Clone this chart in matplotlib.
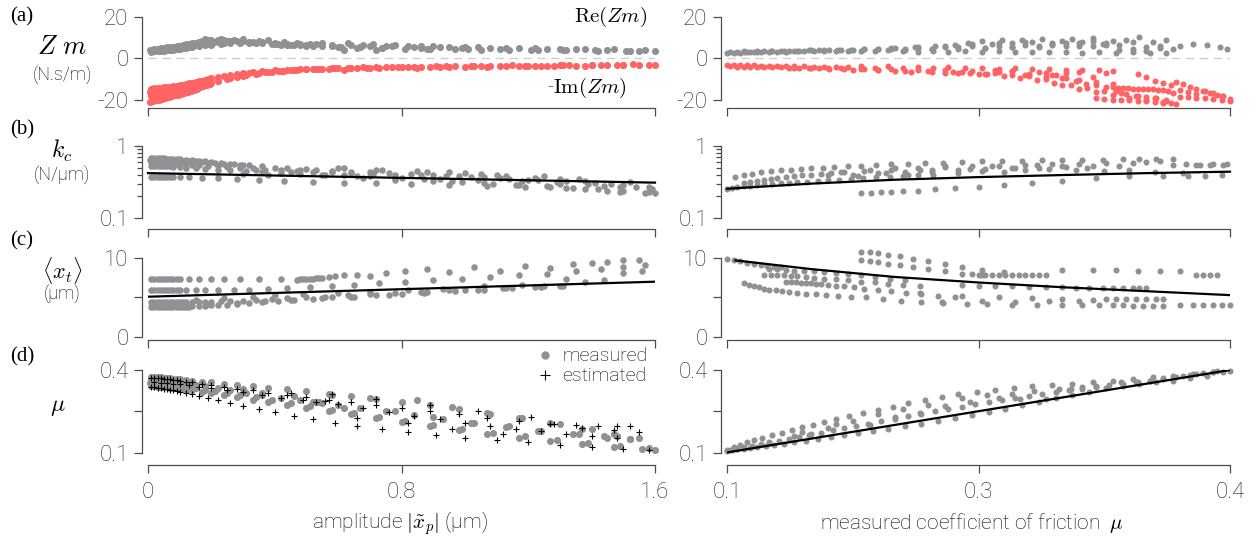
import matplotlib
matplotlib.use("Agg")
import matplotlib.pyplot as plt
from matplotlib import font_manager
from matplotlib.lines import Line2D

# %% data -------------------------------------------------------------------
# (a) left: mechanical impedance vs amplitude
za_amp_1 = [0.02, 0.03, 0.04, 0.05, 0.06, 0.07, 0.08, 0.09, 0.10, 0.11, 0.12, 0.13, 0.14, 0.15, 0.16, 0.17, 0.18, 0.19, 0.20, 0.22, 0.24, 0.26, 0.28, 0.30, 0.33, 0.36, 0.40, 0.44, 0.48, 0.53, 0.58, 0.64, 0.70, 0.77, 0.84, 0.92, 1.00, 1.08, 1.17, 1.26, 1.35, 1.45, 1.55]
za_re_1 = [4.6, 4.8, 5.0, 5.1, 5.3, 5.5, 5.7, 6.0, 6.2, 6.5, 6.8, 7.0, 7.3, 7.6, 7.9, 8.2, 8.5, 8.8, 9.0, 8.9, 8.7, 8.5, 8.4, 8.2, 7.9, 7.7, 7.4, 7.2, 7.0, 6.8, 6.6, 6.4, 6.1, 5.9, 5.7, 5.5, 5.3, 5.1, 4.9, 4.6, 4.4, 4.1, 3.8]
za_amp_2 = [0.01, 0.02, 0.03, 0.04, 0.05, 0.06, 0.07, 0.08, 0.09, 0.10, 0.11, 0.12, 0.13, 0.14, 0.16, 0.18, 0.20, 0.23, 0.26, 0.29, 0.32, 0.36, 0.40, 0.45, 0.50, 0.55, 0.61, 0.67, 0.74, 0.81, 0.89, 0.97, 1.05, 1.14, 1.23, 1.32, 1.42, 1.52, 1.60]
za_re_2 = [3.2, 3.4, 3.5, 3.7, 3.8, 4.0, 4.1, 4.3, 4.5, 4.7, 4.9, 5.1, 5.3, 5.5, 5.9, 6.3, 6.7, 7.1, 7.4, 7.6, 7.5, 7.3, 7.0, 6.6, 6.3, 6.0, 5.6, 5.3, 5.0, 4.8, 4.6, 4.5, 4.3, 4.2, 4.0, 3.9, 3.7, 3.5, 3.4]
za_amp_3 = [0.03, 0.05, 0.07, 0.09, 0.12, 0.15, 0.19, 0.24, 0.29, 0.34, 0.39, 0.42, 0.44, 0.46, 0.48, 0.50, 0.52, 0.60, 0.62, 0.66, 0.68, 0.72, 0.75, 0.86, 0.88, 0.99, 1.01, 1.11, 1.21, 1.31, 1.41, 1.51]
za_re_3 = [4.0, 4.3, 4.6, 5.0, 5.6, 6.3, 7.0, 7.6, 7.9, 7.4, 6.8, 6.5, 6.4, 6.3, 6.3, 6.2, 6.1, 5.6, 4.3, 5.2, 6.5, 3.9, 5.8, 5.0, 4.4, 5.1, 4.7, 4.5, 4.2, 4.0, 3.9, 3.6]
za_amp_4 = [0.16, 0.18, 0.21, 0.23, 0.25, 0.27, 0.30, 0.32, 0.35, 0.38, 0.41, 0.43, 0.47, 0.51, 0.55, 0.58, 0.63, 0.67, 0.71, 0.74, 0.78, 0.82, 0.86, 0.90, 0.95, 1.04, 1.13, 1.22, 1.30, 1.38, 1.47, 1.57]
za_re_4 = [7.8, 9.4, 8.0, 9.6, 8.2, 9.0, 9.2, 8.0, 8.6, 8.8, 7.2, 8.0, 7.6, 7.0, 7.4, 6.0, 7.3, 5.6, 6.8, 5.0, 6.4, 6.2, 6.0, 5.8, 5.4, 5.6, 5.2, 5.0, 4.8, 4.6, 4.4, 4.0]
za_amp_5 = [0.005, 0.015, 0.025, 0.035, 0.045, 0.055, 0.065, 0.075, 0.085, 0.095, 0.105, 0.115, 0.125, 0.135, 0.145, 0.155, 0.165, 0.175, 0.185, 0.195]
za_re_5 = [4.0, 4.1, 4.3, 4.4, 4.6, 4.8, 5.0, 5.2, 5.4, 5.7, 5.9, 6.2, 6.5, 6.8, 7.0, 7.3, 7.5, 7.7, 7.9, 8.1]
zi_amp_1 = [0.01, 0.02, 0.03, 0.04, 0.05, 0.06, 0.07, 0.08, 0.09, 0.10, 0.11, 0.12, 0.13, 0.14, 0.15, 0.16, 0.17, 0.18, 0.19, 0.20, 0.22, 0.24, 0.26, 0.28, 0.30, 0.33, 0.36, 0.40, 0.44, 0.48, 0.53, 0.58, 0.64, 0.70, 0.77, 0.84, 0.92, 1.00, 1.08, 1.17, 1.26, 1.35, 1.45, 1.55]
zi_im_1 = [-14.5, -14.4, -14.3, -14.1, -14.0, -13.8, -13.6, -13.4, -13.2, -12.9, -12.6, -12.3, -12.0, -11.7, -11.4, -11.0, -10.7, -10.3, -10.0, -9.6, -9.0, -8.4, -7.9, -7.4, -7.0, -6.5, -6.1, -5.7, -5.4, -5.2, -5.0, -4.8, -4.6, -4.4, -4.3, -4.1, -4.0, -3.9, -3.7, -3.6, -3.5, -3.4, -3.3, -3.2]
zi_amp_2 = [0.01, 0.02, 0.03, 0.04, 0.05, 0.06, 0.07, 0.08, 0.09, 0.10, 0.11, 0.12, 0.13, 0.14, 0.15, 0.16, 0.18, 0.20, 0.22, 0.25, 0.28, 0.31, 0.35, 0.39, 0.43, 0.47, 0.52, 0.57, 0.63, 0.69, 0.75, 0.82, 0.89, 0.97, 1.05, 1.13, 1.22, 1.31, 1.40, 1.50, 1.60]
zi_im_2 = [-20.5, -20.0, -19.6, -19.2, -18.8, -18.4, -18.0, -17.6, -17.2, -16.8, -16.4, -16.0, -15.5, -15.0, -14.5, -14.0, -13.0, -12.0, -11.0, -9.8, -8.8, -8.0, -7.2, -6.6, -6.1, -5.7, -5.3, -5.0, -4.7, -4.5, -4.3, -4.1, -3.9, -3.7, -3.6, -3.5, -3.4, -3.3, -3.2, -3.1, -3.0]
zi_amp_3 = [0.01, 0.02, 0.03, 0.04, 0.05, 0.06, 0.07, 0.08, 0.09, 0.10, 0.12, 0.14, 0.16, 0.19, 0.22, 0.26, 0.30, 0.34, 0.38, 0.42, 0.46, 0.50, 0.55, 0.60, 0.66, 0.72, 0.79, 0.86, 0.94, 1.02, 1.11, 1.20, 1.30, 1.40, 1.50]
zi_im_3 = [-18.0, -17.8, -17.6, -17.4, -17.2, -17.0, -16.8, -16.5, -16.2, -15.9, -15.2, -14.4, -13.5, -12.2, -11.0, -9.6, -8.4, -7.4, -6.6, -6.0, -5.6, -5.2, -4.9, -4.6, -4.4, -4.2, -4.0, -3.9, -3.7, -3.6, -3.5, -3.4, -3.3, -3.2, -3.1]
zi_amp_4 = [0.005, 0.015, 0.025, 0.035, 0.045, 0.055, 0.065, 0.075, 0.085, 0.095, 0.105, 0.115, 0.125, 0.135, 0.145, 0.155, 0.165, 0.175, 0.185, 0.195]
zi_im_4 = [-16.0, -15.8, -15.6, -15.4, -15.2, -15.0, -14.8, -14.5, -14.2, -13.9, -13.6, -13.2, -12.8, -12.4, -12.0, -11.6, -11.2, -10.8, -10.4, -10.0]
zi_amp_5 = [0.005, 0.015, 0.025, 0.035, 0.045, 0.055, 0.065, 0.075, 0.085, 0.095, 0.105, 0.115, 0.125, 0.135, 0.145, 0.155, 0.165, 0.175, 0.185, 0.195]
zi_im_5 = [-21.0, -20.6, -20.2, -19.8, -19.4, -19.0, -18.6, -18.2, -17.8, -17.4, -17.0, -16.6, -16.1, -15.6, -15.1, -14.6, -14.0, -13.4, -12.8, -12.2]
zi_amp_6 = [0.32, 0.37, 0.41, 0.45, 0.50, 0.54, 0.59, 0.62, 0.68, 0.73, 0.80, 0.85, 0.91, 0.95, 1.03, 1.07, 1.15, 1.19, 1.24, 1.28, 1.33, 1.38, 1.43, 1.48, 1.53, 1.58]
zi_im_6 = [-6.8, -6.3, -5.9, -5.6, -5.0, -5.3, -4.6, -5.6, -4.3, -4.8, -3.9, -4.6, -3.6, -4.2, -3.5, -4.0, -3.3, -3.8, -3.4, -3.6, -3.2, -3.4, -3.0, -3.3, -2.9, -3.1]

# (a) right: mechanical impedance vs measured mu
zr_mu_1 = [0.100, 0.104, 0.108, 0.112, 0.116, 0.120, 0.125, 0.130, 0.135, 0.140, 0.146, 0.152, 0.158, 0.165, 0.172, 0.180, 0.188, 0.196, 0.205, 0.214, 0.223, 0.232, 0.242, 0.252, 0.262, 0.272, 0.282, 0.292, 0.302, 0.312, 0.322, 0.332, 0.342, 0.352, 0.362]
zr_re_1 = [2.4, 2.6, 2.8, 2.9, 3.0, 3.1, 3.2, 3.3, 3.3, 3.4, 3.5, 3.5, 3.6, 3.7, 3.8, 3.7, 3.6, 3.9, 3.4, 3.3, 3.6, 3.2, 3.5, 3.1, 3.4, 3.0, 3.3, 2.9, 3.2, 2.8, 3.1, 2.7, 3.0, 2.6, 2.5]
zr_mu_2 = [0.110, 0.118, 0.126, 0.134, 0.142, 0.150, 0.158, 0.166, 0.174, 0.182, 0.190, 0.198, 0.206, 0.214, 0.222, 0.230, 0.238, 0.246, 0.254, 0.262, 0.270, 0.278, 0.286, 0.294, 0.302, 0.310, 0.318, 0.326, 0.334, 0.342, 0.350, 0.358, 0.366]
zr_re_2 = [3.4, 3.5, 3.6, 3.7, 3.8, 3.9, 4.0, 4.1, 4.2, 4.4, 4.6, 4.8, 4.3, 5.0, 4.5, 5.4, 4.8, 5.8, 5.0, 6.2, 5.3, 6.6, 5.6, 7.0, 5.9, 7.3, 6.1, 7.5, 6.3, 7.7, 5.5, 6.0, 4.8]
zr_mu_3 = [0.200, 0.212, 0.224, 0.236, 0.244, 0.252, 0.258, 0.264, 0.270, 0.276, 0.282, 0.288, 0.294, 0.300, 0.306, 0.312, 0.318, 0.324, 0.330, 0.338, 0.346, 0.354, 0.362, 0.370, 0.378, 0.386, 0.394, 0.398]
zr_re_3 = [5.2, 5.6, 6.0, 6.5, 7.5, 8.2, 7.0, 8.8, 7.4, 9.0, 8.0, 9.3, 7.6, 8.6, 9.4, 8.1, 9.8, 7.2, 8.4, 9.1, 10.2, 7.8, 8.8, 6.0, 7.2, 6.4, 5.6, 4.8]
zr_mu_4 = [0.102, 0.106, 0.110, 0.114, 0.118, 0.122, 0.127, 0.132, 0.137, 0.143, 0.149, 0.155, 0.161, 0.168, 0.175, 0.182, 0.190, 0.198, 0.206, 0.214, 0.222, 0.230, 0.238, 0.246, 0.254, 0.262, 0.270, 0.278, 0.286, 0.294, 0.302, 0.310, 0.318, 0.326, 0.334, 0.342, 0.350, 0.358]
zr_re_4 = [3.0, 3.1, 3.2, 3.3, 3.3, 3.4, 3.5, 3.6, 3.7, 3.8, 3.9, 4.0, 4.1, 4.0, 4.2, 4.6, 4.4, 5.0, 4.6, 5.6, 4.8, 6.2, 5.4, 6.8, 5.2, 7.4, 5.6, 8.0, 6.0, 6.4, 7.6, 5.8, 8.6, 6.6, 4.0, 4.4, 3.8, 5.2]
ri_mu_1 = [0.100, 0.104, 0.108, 0.112, 0.116, 0.120, 0.125, 0.130, 0.135, 0.140, 0.146, 0.152, 0.158, 0.165, 0.172, 0.180, 0.188, 0.196, 0.205, 0.214, 0.223, 0.232, 0.242, 0.252, 0.262, 0.272, 0.282, 0.292, 0.302, 0.312, 0.322, 0.330]
ri_im_1 = [-3.0, -3.1, -3.2, -3.3, -3.3, -3.4, -3.5, -3.6, -3.6, -3.7, -3.8, -3.9, -4.0, -4.1, -4.2, -3.6, -4.4, -3.8, -4.6, -4.0, -4.5, -4.2, -4.8, -4.4, -5.0, -4.6, -5.2, -5.0, -5.4, -5.6, -5.8, -6.0]
ri_mu_2 = [0.140, 0.150, 0.160, 0.170, 0.180, 0.190, 0.200, 0.210, 0.220, 0.230, 0.240, 0.250, 0.260, 0.270, 0.280, 0.290, 0.300, 0.310, 0.320, 0.330]
ri_im_2 = [-4.4, -4.6, -4.8, -5.0, -5.3, -5.6, -5.9, -6.3, -6.0, -6.8, -6.4, -7.4, -6.9, -7.8, -8.6, -9.0, -9.6, -10.4, -11.2, -12.4]
ri_mu_3 = [0.235, 0.245, 0.255, 0.265, 0.275, 0.285, 0.295, 0.305, 0.315, 0.325, 0.335, 0.345, 0.355, 0.362]
ri_im_3 = [-6.5, -7.0, -7.6, -8.3, -9.2, -10.3, -11.6, -13.0, -14.4, -15.6, -16.8, -18.0, -19.3, -20.5]
ri_mu_4 = [0.26, 0.27, 0.28, 0.29, 0.30, 0.31, 0.32, 0.33, 0.34, 0.35, 0.36]
ri_im_4 = [-5.5, -6.2, -7.5, -9.8, -12.6, -14.8, -16.4, -17.8, -19.2, -20.2, -21.3]
ri_mu_5 = [0.330, 0.333, 0.336, 0.339, 0.342, 0.345, 0.348, 0.351, 0.354, 0.357, 0.360, 0.363, 0.366]
ri_im_5 = [-14.0, -14.1, -14.3, -14.4, -14.5, -14.6, -14.7, -14.8, -14.9, -15.0, -15.3, -15.8, -16.5]
ri_mu_6 = [0.320, 0.325, 0.330, 0.335, 0.340, 0.345, 0.350, 0.355, 0.360, 0.365, 0.368]
ri_im_6 = [-19.3, -19.5, -19.8, -20.0, -20.2, -20.4, -20.6, -20.8, -21.0, -21.4, -21.8]
ri_mu_7 = [0.368, 0.372, 0.376, 0.380, 0.384, 0.388, 0.392, 0.396, 0.400]
ri_im_7 = [-11.5, -12.5, -13.6, -14.6, -15.5, -16.5, -17.4, -18.3, -19.4]
ri_mu_8 = [0.370, 0.375, 0.380, 0.385, 0.390, 0.395, 0.400]
ri_im_8 = [-18.6, -18.8, -19.0, -19.3, -19.5, -19.8, -20.3]
ri_mu_9 = [0.102, 0.106, 0.110, 0.114, 0.118, 0.122, 0.127, 0.132, 0.137, 0.143, 0.149, 0.155, 0.161, 0.168, 0.175, 0.182, 0.190, 0.198, 0.206, 0.214, 0.222, 0.230, 0.238, 0.246, 0.254, 0.262, 0.270, 0.278, 0.286, 0.294, 0.302, 0.310, 0.318, 0.326]
ri_im_9 = [-3.8, -3.9, -4.0, -4.0, -4.1, -4.2, -4.2, -4.3, -4.4, -4.5, -4.6, -4.4, -5.0, -4.8, -5.4, -5.2, -5.8, -5.0, -6.2, -5.6, -6.6, -5.4, -7.0, -6.0, -7.4, -6.4, -6.0, -7.8, -6.6, -8.2, -7.2, -6.4, -8.8, -6.8]
ri_mu_10 = [0.290, 0.296, 0.302, 0.308, 0.314, 0.320, 0.326, 0.332, 0.338, 0.344, 0.350, 0.356, 0.362]
ri_im_10 = [-7.0, -8.0, -9.5, -11.0, -12.2, -13.0, -13.6, -15.5, -17.0, -18.0, -18.5, -19.0, -19.8]
ri_mu_11 = [0.345, 0.350, 0.355, 0.360, 0.365, 0.370, 0.375, 0.380, 0.385, 0.390, 0.395]
ri_im_11 = [-7.5, -9.0, -10.8, -12.0, -13.0, -15.0, -16.0, -17.0, -15.8, -16.8, -18.0]

# (b) left: contact stiffness vs amplitude
kl_amp_1 = [0.01, 0.02, 0.03, 0.04, 0.05, 0.06, 0.07, 0.08, 0.09, 0.10, 0.12, 0.14, 0.16, 0.18, 0.20, 0.23, 0.26, 0.29, 0.32, 0.36, 0.40, 0.44, 0.48, 0.53, 0.58, 0.64, 0.70, 0.76, 0.83, 0.90, 0.98, 1.06, 1.14, 1.23, 1.32, 1.41, 1.50, 1.58]
kl_kc_1 = [0.69, 0.69, 0.68, 0.68, 0.68, 0.67, 0.67, 0.66, 0.66, 0.65, 0.64, 0.63, 0.62, 0.61, 0.60, 0.58, 0.57, 0.55, 0.54, 0.52, 0.50, 0.49, 0.47, 0.46, 0.45, 0.44, 0.43, 0.42, 0.41, 0.40, 0.38, 0.37, 0.35, 0.34, 0.33, 0.31, 0.29, 0.27]
kl_amp_2 = [0.01, 0.02, 0.03, 0.04, 0.05, 0.06, 0.07, 0.08, 0.09, 0.10, 0.12, 0.14, 0.16, 0.19, 0.22, 0.25, 0.29, 0.33, 0.37, 0.42, 0.47, 0.52, 0.58, 0.64, 0.71, 0.78, 0.86, 0.94, 1.02, 1.11, 1.20, 1.29, 1.39, 1.49, 1.59]
kl_kc_2 = [0.60, 0.60, 0.59, 0.59, 0.59, 0.58, 0.58, 0.58, 0.57, 0.57, 0.56, 0.55, 0.54, 0.53, 0.52, 0.51, 0.50, 0.49, 0.47, 0.46, 0.45, 0.44, 0.43, 0.42, 0.41, 0.40, 0.39, 0.38, 0.37, 0.36, 0.34, 0.32, 0.30, 0.27, 0.25]
kl_amp_3 = [0.01, 0.02, 0.03, 0.04, 0.05, 0.06, 0.07, 0.08, 0.10, 0.12, 0.15, 0.18, 0.22, 0.26, 0.31, 0.36, 0.42, 0.48, 0.55, 0.62, 0.70, 0.78, 0.87, 0.96, 1.06, 1.16, 1.27, 1.38, 1.49, 1.60]
kl_kc_3 = [0.53, 0.53, 0.53, 0.52, 0.52, 0.52, 0.52, 0.51, 0.51, 0.50, 0.49, 0.48, 0.47, 0.46, 0.45, 0.44, 0.42, 0.41, 0.40, 0.39, 0.38, 0.36, 0.35, 0.33, 0.31, 0.29, 0.27, 0.25, 0.23, 0.22]
kl_amp_4 = [0.01, 0.02, 0.03, 0.04, 0.05, 0.06, 0.07, 0.08, 0.10, 0.13, 0.17, 0.22, 0.28, 0.35, 0.43, 0.52, 0.62, 0.72, 0.83, 0.95, 1.07, 1.19, 1.32, 1.45, 1.57]
kl_kc_4 = [0.37, 0.37, 0.37, 0.37, 0.37, 0.37, 0.37, 0.37, 0.37, 0.37, 0.36, 0.36, 0.35, 0.34, 0.33, 0.32, 0.31, 0.31, 0.30, 0.29, 0.28, 0.27, 0.26, 0.24, 0.22]
kl_amp_5 = [0.30, 0.34, 0.38, 0.45, 0.50, 0.56, 0.60, 0.66, 0.74, 0.80, 0.88, 0.92, 1.00, 1.04, 1.10, 1.18, 1.25, 1.30, 1.36, 1.44, 1.52]
kl_kc_5 = [0.41, 0.46, 0.39, 0.43, 0.48, 0.40, 0.50, 0.38, 0.46, 0.36, 0.44, 0.35, 0.42, 0.34, 0.40, 0.33, 0.38, 0.30, 0.35, 0.28, 0.32]
kl_amp_6 = [0.005, 0.015, 0.025, 0.035, 0.045, 0.055, 0.065, 0.075, 0.085, 0.095, 0.11, 0.13, 0.15, 0.17, 0.19, 0.21, 0.24, 0.27, 0.30]
kl_kc_6 = [0.64, 0.64, 0.64, 0.64, 0.63, 0.63, 0.63, 0.63, 0.62, 0.62, 0.62, 0.61, 0.61, 0.60, 0.59, 0.58, 0.57, 0.56, 0.55]
kl_amp_7 = [0.62, 0.68, 0.72, 0.78, 0.85, 0.90, 0.95, 0.99, 1.05, 1.09, 1.13, 1.17, 1.22, 1.26, 1.30, 1.34, 1.38, 1.42, 1.46, 1.50, 1.54, 1.58]
kl_kc_7 = [0.49, 0.36, 0.47, 0.34, 0.45, 0.33, 0.44, 0.32, 0.41, 0.30, 0.38, 0.29, 0.36, 0.28, 0.35, 0.26, 0.33, 0.25, 0.30, 0.24, 0.27, 0.23]
kl_fit_amp = [0.0, 1.6]
kl_fit_kc = [0.42, 0.31]

# (b) right: contact stiffness vs measured mu
kr_mu_1 = [0.105, 0.110, 0.115, 0.120, 0.126, 0.132, 0.138, 0.144, 0.150, 0.157, 0.164, 0.172, 0.180, 0.189, 0.198, 0.208, 0.218, 0.229, 0.240, 0.252, 0.264, 0.276, 0.288, 0.300, 0.312, 0.324, 0.336, 0.346, 0.356, 0.366]
kr_kc_1 = [0.37, 0.39, 0.41, 0.43, 0.45, 0.46, 0.47, 0.48, 0.49, 0.50, 0.51, 0.52, 0.53, 0.54, 0.56, 0.57, 0.58, 0.59, 0.60, 0.61, 0.62, 0.62, 0.63, 0.63, 0.64, 0.64, 0.65, 0.65, 0.65, 0.65]
kr_mu_2 = [0.100, 0.103, 0.106, 0.110, 0.114, 0.118, 0.122, 0.127, 0.132, 0.137, 0.142, 0.148, 0.154, 0.160, 0.167, 0.174, 0.181, 0.189, 0.197, 0.205, 0.214, 0.223]
kr_kc_2 = [0.25, 0.26, 0.27, 0.28, 0.28, 0.29, 0.30, 0.30, 0.31, 0.31, 0.32, 0.32, 0.33, 0.34, 0.34, 0.35, 0.36, 0.37, 0.37, 0.38, 0.39, 0.40]
kr_mu_3 = [0.180, 0.186, 0.192, 0.198, 0.205, 0.214, 0.224, 0.236, 0.250, 0.265, 0.282, 0.300, 0.320, 0.340, 0.360, 0.375, 0.385, 0.395]
kr_kc_3 = [0.22, 0.225, 0.23, 0.23, 0.235, 0.24, 0.25, 0.26, 0.27, 0.29, 0.31, 0.33, 0.36, 0.38, 0.38, 0.38, 0.38, 0.39]
kr_mu_4 = [0.160, 0.170, 0.178, 0.185, 0.195, 0.200, 0.208, 0.215, 0.222, 0.230, 0.238, 0.245, 0.252, 0.258, 0.265, 0.272, 0.278, 0.285, 0.292, 0.300, 0.308, 0.315, 0.325, 0.340, 0.355, 0.372, 0.380, 0.388, 0.396]
kr_kc_4 = [0.40, 0.44, 0.38, 0.46, 0.42, 0.50, 0.40, 0.47, 0.44, 0.52, 0.42, 0.48, 0.45, 0.53, 0.43, 0.50, 0.46, 0.55, 0.48, 0.52, 0.47, 0.50, 0.45, 0.47, 0.44, 0.42, 0.54, 0.55, 0.55]
kr_mu_5 = [0.110, 0.114, 0.118, 0.122, 0.126, 0.130, 0.135, 0.140, 0.145, 0.150, 0.156, 0.162, 0.168, 0.175, 0.182, 0.190, 0.198, 0.206, 0.214, 0.222, 0.230, 0.238, 0.246, 0.254, 0.262, 0.270, 0.278, 0.286, 0.294, 0.302, 0.310, 0.318, 0.326, 0.334, 0.342, 0.350, 0.358, 0.366, 0.374, 0.382, 0.390, 0.398]
kr_kc_5 = [0.31, 0.32, 0.33, 0.34, 0.35, 0.36, 0.37, 0.38, 0.39, 0.40, 0.41, 0.42, 0.43, 0.40, 0.45, 0.42, 0.47, 0.44, 0.49, 0.46, 0.51, 0.47, 0.52, 0.48, 0.53, 0.49, 0.55, 0.50, 0.56, 0.51, 0.57, 0.52, 0.58, 0.53, 0.59, 0.60, 0.61, 0.55, 0.56, 0.55, 0.56, 0.56]
kr_fit_mu = [0.10, 0.15, 0.20, 0.25, 0.30, 0.35, 0.40]
kr_fit_kc = [0.255, 0.30, 0.34, 0.37, 0.395, 0.42, 0.44]

# (c) left: mean tangential displacement vs amplitude
xl_amp_1 = [0.01, 0.02, 0.03, 0.04, 0.05, 0.06, 0.07, 0.08, 0.09, 0.10, 0.13, 0.16, 0.20, 0.24, 0.29, 0.35, 0.42, 0.47, 0.48, 0.49, 0.50, 0.51, 0.52, 0.53, 0.54, 0.55, 0.57, 0.59, 0.62, 0.66, 0.70, 0.75, 0.81, 0.88, 0.95, 1.03, 1.11, 1.19, 1.27, 1.34, 1.40, 1.45, 1.50, 1.55]
xl_xt_1 = [7.4, 7.4, 7.4, 7.4, 7.4, 7.4, 7.4, 7.4, 7.4, 7.4, 7.4, 7.4, 7.4, 7.4, 7.4, 7.4, 7.4, 7.2, 7.3, 7.3, 7.4, 7.4, 7.4, 7.5, 7.5, 7.5, 7.6, 7.7, 7.8, 7.9, 7.7, 8.1, 8.4, 8.6, 8.2, 8.8, 8.4, 9.0, 8.7, 9.2, 9.4, 9.5, 9.7, 9.8]
xl_amp_2 = [0.01, 0.02, 0.03, 0.04, 0.05, 0.06, 0.07, 0.08, 0.09, 0.10, 0.12, 0.15, 0.18, 0.22, 0.27, 0.32, 0.38, 0.44, 0.51, 0.58, 0.65, 0.73, 0.81, 0.90, 0.99, 1.08, 1.17, 1.26, 1.35, 1.43, 1.50, 1.57]
xl_xt_2 = [5.9, 5.9, 5.9, 5.9, 5.9, 5.9, 5.9, 5.9, 5.9, 5.9, 5.9, 5.9, 5.9, 5.9, 5.9, 6.0, 6.1, 6.2, 6.3, 6.4, 6.6, 6.8, 7.0, 7.2, 7.4, 7.6, 7.8, 8.0, 8.3, 8.6, 8.9, 9.1]
xl_amp_3 = [0.01, 0.02, 0.03, 0.04, 0.05, 0.06, 0.07, 0.08, 0.09, 0.10, 0.11, 0.12, 0.14, 0.16, 0.18, 0.20, 0.23, 0.26, 0.30, 0.34, 0.39, 0.44, 0.50, 0.56, 0.63, 0.70, 0.78, 0.86, 0.95, 1.04, 1.13, 1.22, 1.31]
xl_xt_3 = [4.4, 4.4, 4.4, 4.4, 4.4, 4.4, 4.4, 4.4, 4.4, 4.4, 4.4, 4.4, 4.4, 4.4, 4.4, 4.4, 4.5, 4.5, 4.6, 4.7, 4.8, 4.9, 5.0, 5.1, 5.3, 5.4, 5.6, 5.7, 5.9, 6.0, 6.2, 6.3, 6.5]
xl_amp_4 = [0.01, 0.02, 0.03, 0.04, 0.05, 0.06, 0.07, 0.08, 0.09, 0.10, 0.11, 0.12, 0.13, 0.14, 0.16, 0.18, 0.20, 0.22, 0.25, 0.28, 0.32, 0.36, 0.41, 0.46, 0.52, 0.58, 0.65, 0.72, 0.80, 0.88, 0.97, 1.06, 1.15, 1.24, 1.30]
xl_xt_4 = [3.8, 3.8, 3.8, 3.8, 3.8, 3.8, 3.8, 3.8, 3.8, 3.8, 3.8, 3.8, 3.8, 3.9, 3.9, 3.9, 4.0, 4.0, 4.1, 4.2, 4.3, 4.4, 4.5, 4.7, 4.8, 5.0, 5.1, 5.3, 5.5, 5.7, 5.8, 6.0, 6.2, 6.3, 6.4]
xl_amp_5 = [0.15, 0.19, 0.24, 0.28, 0.33, 0.37, 0.40, 0.45, 0.49, 0.55, 0.60, 0.64, 0.70, 0.76, 0.82, 0.87, 0.93, 1.00, 1.06, 1.12, 1.18, 1.25, 1.32, 1.38, 1.44, 1.50, 1.56]
xl_xt_5 = [4.7, 4.2, 4.9, 4.3, 5.0, 4.6, 5.3, 4.7, 5.5, 4.9, 5.6, 5.1, 5.7, 5.3, 6.0, 5.6, 6.1, 5.9, 6.4, 6.2, 6.6, 6.4, 7.3, 7.0, 7.2, 8.1, 8.4]
xl_fit_amp = [0.0, 1.6]
xl_fit_xt = [5.1, 7.0]

# (c) right: mean tangential displacement vs measured mu
xr_mu_1 = [0.100, 0.104, 0.108, 0.112, 0.116, 0.120, 0.124, 0.128, 0.132]
xr_xt_1 = [9.9, 9.7, 9.6, 9.4, 9.3, 9.1, 9.0, 8.9, 8.8]
xr_mu_2 = [0.125, 0.130, 0.135, 0.140, 0.146, 0.152, 0.158, 0.165, 0.172, 0.180, 0.188, 0.197, 0.206]
xr_xt_2 = [8.6, 8.6, 8.5, 8.4, 8.4, 8.3, 8.2, 8.1, 8.0, 7.9, 7.6, 7.4, 7.2]
xr_mu_3 = [0.122, 0.126, 0.130, 0.134, 0.138, 0.142, 0.147, 0.152, 0.158, 0.165, 0.172, 0.180, 0.188, 0.196, 0.205, 0.215]
xr_xt_3 = [7.9, 7.9, 7.8, 7.8, 7.7, 7.7, 7.6, 7.5, 7.4, 7.3, 7.2, 7.0, 6.9, 6.7, 6.6, 6.4]
xr_mu_4 = [0.135, 0.138, 0.141, 0.144, 0.147, 0.150, 0.153, 0.156, 0.160, 0.165, 0.170, 0.176, 0.182, 0.190, 0.198, 0.207, 0.216, 0.226, 0.236]
xr_xt_4 = [6.9, 6.9, 6.9, 6.8, 6.8, 6.8, 6.7, 6.7, 6.6, 6.5, 6.4, 6.3, 6.1, 6.0, 5.8, 5.6, 5.4, 5.2, 5.0]
xr_mu_5 = [0.110, 0.113, 0.116, 0.119, 0.122, 0.125, 0.129, 0.133, 0.137, 0.142, 0.147, 0.153, 0.159, 0.166, 0.174, 0.183, 0.193, 0.204, 0.216, 0.229, 0.243]
xr_xt_5 = [6.8, 6.6, 6.4, 6.3, 6.1, 6.0, 5.9, 5.8, 5.7, 5.6, 5.5, 5.4, 5.3, 5.2, 5.1, 5.0, 4.8, 4.6, 4.4, 4.3, 4.2]
xr_mu_6 = [0.180, 0.185, 0.190, 0.196, 0.203, 0.211, 0.220, 0.230, 0.240, 0.252, 0.265]
xr_xt_6 = [10.8, 10.7, 10.6, 10.4, 10.2, 9.9, 9.6, 9.2, 8.8, 8.5, 8.2]
xr_mu_7 = [0.180, 0.185, 0.190, 0.196, 0.203, 0.211, 0.220, 0.230, 0.240, 0.252]
xr_xt_7 = [9.7, 9.6, 9.5, 9.3, 9.1, 8.9, 8.6, 8.3, 8.0, 7.8]
xr_mu_8 = [0.246, 0.250, 0.254, 0.258, 0.262, 0.266, 0.270, 0.274, 0.278, 0.282, 0.286, 0.290, 0.300, 0.318, 0.332, 0.345, 0.358, 0.370, 0.380, 0.384, 0.388, 0.392]
xr_xt_8 = [8.0, 7.9, 7.9, 7.9, 7.8, 7.8, 7.8, 7.8, 7.8, 7.8, 7.8, 7.9, 8.5, 8.5, 8.5, 8.4, 8.4, 8.3, 7.9, 7.8, 7.8, 7.8]
xr_mu_9 = [0.240, 0.250, 0.260, 0.270, 0.280, 0.290, 0.300, 0.308, 0.316, 0.324, 0.330, 0.336, 0.342, 0.346, 0.350]
xr_xt_9 = [6.6, 6.5, 6.4, 6.4, 6.3, 6.3, 6.3, 6.2, 6.2, 6.2, 6.2, 6.2, 6.2, 6.2, 6.2]
xr_mu_10 = [0.215, 0.228, 0.240, 0.252, 0.262, 0.272, 0.282, 0.292, 0.300, 0.310, 0.318, 0.326, 0.332, 0.338, 0.344, 0.350, 0.356, 0.360]
xr_xt_10 = [5.6, 4.4, 5.2, 4.6, 5.0, 4.4, 4.9, 4.6, 4.8, 4.5, 4.7, 4.8, 4.8, 4.8, 4.8, 4.8, 4.8, 4.8]
xr_mu_11 = [0.255, 0.270, 0.285, 0.300, 0.312, 0.322, 0.330, 0.336, 0.342, 0.348, 0.354, 0.360, 0.370, 0.378, 0.384, 0.390, 0.395, 0.400]
xr_xt_11 = [4.2, 4.1, 4.1, 4.1, 4.0, 4.0, 4.0, 4.0, 3.9, 3.9, 3.9, 3.9, 4.1, 4.1, 4.1, 4.1, 4.1, 4.1]
xr_fit_mu = [0.105, 0.15, 0.20, 0.25, 0.30, 0.35, 0.40]
xr_fit_xt = [9.7, 8.6, 7.6, 6.9, 6.3, 5.8, 5.3]

# (d) left: friction coefficient vs amplitude (measured and estimated)
ml_amp_1 = [0.01, 0.02, 0.03, 0.04, 0.05, 0.06, 0.07, 0.08, 0.09, 0.10, 0.12, 0.14, 0.17, 0.20, 0.24, 0.28, 0.33, 0.38, 0.44, 0.50, 0.57, 0.64, 0.72, 0.80, 0.89, 0.98, 1.07, 1.17, 1.27, 1.37, 1.47, 1.55]
ml_mu_1 = [0.375, 0.375, 0.374, 0.373, 0.372, 0.371, 0.370, 0.369, 0.368, 0.366, 0.364, 0.362, 0.358, 0.355, 0.351, 0.347, 0.342, 0.336, 0.330, 0.323, 0.315, 0.306, 0.296, 0.285, 0.272, 0.258, 0.243, 0.226, 0.208, 0.188, 0.168, 0.155]
ml_amp_2 = [0.01, 0.02, 0.03, 0.04, 0.05, 0.06, 0.07, 0.08, 0.10, 0.12, 0.15, 0.18, 0.22, 0.26, 0.31, 0.36, 0.42, 0.48, 0.52, 0.53, 0.54, 0.55, 0.60, 0.67, 0.75, 0.84, 0.93, 1.03, 1.13, 1.23, 1.34, 1.45, 1.52]
ml_mu_2 = [0.365, 0.364, 0.363, 0.362, 0.361, 0.360, 0.358, 0.357, 0.354, 0.351, 0.346, 0.341, 0.334, 0.327, 0.318, 0.310, 0.300, 0.290, 0.285, 0.284, 0.283, 0.282, 0.274, 0.264, 0.252, 0.238, 0.224, 0.209, 0.195, 0.181, 0.168, 0.155, 0.150]
ml_amp_3 = [0.01, 0.02, 0.03, 0.04, 0.05, 0.06, 0.07, 0.08, 0.09, 0.10, 0.12, 0.14, 0.17, 0.20, 0.24, 0.28, 0.33, 0.38, 0.44, 0.50, 0.57, 0.64, 0.72, 0.80, 0.89, 0.98, 1.07, 1.17, 1.27, 1.37, 1.47, 1.56, 1.60]
ml_mu_3 = [0.342, 0.341, 0.340, 0.339, 0.338, 0.337, 0.336, 0.335, 0.334, 0.332, 0.329, 0.326, 0.321, 0.316, 0.309, 0.302, 0.293, 0.284, 0.274, 0.263, 0.252, 0.240, 0.226, 0.212, 0.198, 0.183, 0.170, 0.156, 0.143, 0.131, 0.121, 0.114, 0.111]
ml_amp_4 = [0.30, 0.36, 0.46, 0.58, 0.62, 0.70, 0.78, 0.85, 0.90, 0.96, 1.02, 1.08, 1.14, 1.18, 1.24, 1.30, 1.36, 1.40, 1.44, 1.48, 1.52]
ml_mu_4 = [0.330, 0.318, 0.305, 0.310, 0.262, 0.300, 0.250, 0.292, 0.230, 0.268, 0.210, 0.242, 0.198, 0.225, 0.180, 0.205, 0.170, 0.185, 0.160, 0.162, 0.150]
ml_amp_5 = [0.005, 0.015, 0.025, 0.035, 0.045, 0.055, 0.065, 0.075, 0.085, 0.095, 0.11, 0.13, 0.15, 0.18, 0.21, 0.25, 0.29, 0.34, 0.39, 0.45, 0.51, 0.58, 0.65, 0.73, 0.81, 0.90, 0.99, 1.09, 1.19, 1.29, 1.39, 1.49, 1.58]
ml_mu_5 = [0.352, 0.351, 0.350, 0.349, 0.348, 0.347, 0.346, 0.345, 0.344, 0.342, 0.340, 0.337, 0.334, 0.329, 0.324, 0.317, 0.310, 0.301, 0.292, 0.281, 0.270, 0.257, 0.244, 0.230, 0.216, 0.201, 0.187, 0.173, 0.160, 0.148, 0.137, 0.127, 0.118]
el_amp_1 = [0.01, 0.02, 0.03, 0.04, 0.05, 0.06, 0.07, 0.08, 0.09, 0.10, 0.12, 0.14, 0.17, 0.20, 0.24, 0.28, 0.33, 0.38, 0.44, 0.50, 0.57, 0.64, 0.72, 0.80, 0.89, 0.98, 1.07, 1.17, 1.27, 1.37, 1.47, 1.55]
el_mu_1 = [0.372, 0.372, 0.371, 0.370, 0.369, 0.368, 0.366, 0.365, 0.363, 0.361, 0.358, 0.355, 0.350, 0.345, 0.339, 0.333, 0.326, 0.318, 0.310, 0.301, 0.292, 0.283, 0.272, 0.262, 0.251, 0.240, 0.228, 0.216, 0.204, 0.192, 0.182, 0.175]
el_amp_2 = [0.01, 0.02, 0.03, 0.04, 0.05, 0.06, 0.07, 0.08, 0.09, 0.10, 0.12, 0.14, 0.16, 0.19, 0.22, 0.26, 0.30, 0.35, 0.40, 0.46, 0.52, 0.59, 0.66, 0.74, 0.82, 0.91, 1.00, 1.10, 1.20, 1.30, 1.40, 1.50, 1.58]
el_mu_2 = [0.338, 0.337, 0.336, 0.335, 0.333, 0.331, 0.329, 0.327, 0.325, 0.322, 0.317, 0.312, 0.306, 0.298, 0.290, 0.280, 0.270, 0.258, 0.247, 0.235, 0.222, 0.210, 0.198, 0.186, 0.175, 0.165, 0.156, 0.147, 0.138, 0.130, 0.122, 0.116, 0.112]
el_amp_3 = [0.02, 0.04, 0.06, 0.08, 0.10, 0.13, 0.16, 0.20, 0.25, 0.30, 0.36, 0.42, 0.49, 0.53, 0.56, 0.60, 0.68, 0.76, 0.84, 0.92, 1.00, 1.08, 1.16, 1.24, 1.32, 1.40, 1.48]
el_mu_3 = [0.355, 0.354, 0.352, 0.350, 0.348, 0.344, 0.340, 0.334, 0.327, 0.319, 0.310, 0.300, 0.290, 0.284, 0.288, 0.276, 0.262, 0.248, 0.235, 0.222, 0.210, 0.199, 0.188, 0.178, 0.169, 0.161, 0.154]
el_amp_4 = [0.45, 0.58, 0.66, 0.72, 0.82, 0.89, 0.96, 1.04, 1.12, 1.21, 1.28, 1.35, 1.42, 1.48, 1.52]
el_mu_4 = [0.318, 0.312, 0.228, 0.294, 0.210, 0.272, 0.186, 0.250, 0.170, 0.230, 0.205, 0.200, 0.198, 0.196, 0.196]

# (d) right: estimated vs measured friction coefficient
mr_mu_1 = [0.100, 0.104, 0.108, 0.112, 0.116, 0.121, 0.127, 0.133, 0.139, 0.145, 0.151, 0.158, 0.165, 0.173, 0.181, 0.190, 0.199, 0.208, 0.218, 0.228, 0.238, 0.249, 0.260, 0.271, 0.282, 0.294, 0.306, 0.318, 0.330, 0.342, 0.354, 0.366, 0.378, 0.390, 0.400]
mr_est_1 = [0.112, 0.121, 0.130, 0.139, 0.147, 0.155, 0.164, 0.174, 0.184, 0.193, 0.202, 0.212, 0.222, 0.233, 0.244, 0.256, 0.267, 0.279, 0.291, 0.302, 0.312, 0.321, 0.329, 0.336, 0.341, 0.346, 0.350, 0.355, 0.362, 0.368, 0.374, 0.380, 0.386, 0.393, 0.398]
mr_mu_2 = [0.100, 0.103, 0.106, 0.110, 0.114, 0.118, 0.123, 0.128, 0.134, 0.140, 0.147, 0.154, 0.162, 0.170, 0.178, 0.187, 0.196, 0.206, 0.216, 0.226, 0.236, 0.246, 0.256, 0.266, 0.276, 0.286, 0.296, 0.306, 0.316, 0.326, 0.336, 0.346, 0.356, 0.366, 0.376, 0.386, 0.396]
mr_est_2 = [0.108, 0.110, 0.113, 0.116, 0.118, 0.121, 0.125, 0.128, 0.133, 0.138, 0.144, 0.151, 0.158, 0.165, 0.172, 0.180, 0.188, 0.197, 0.206, 0.216, 0.226, 0.237, 0.248, 0.260, 0.272, 0.285, 0.297, 0.310, 0.322, 0.334, 0.343, 0.350, 0.356, 0.362, 0.370, 0.380, 0.392]
mr_mu_3 = [0.140, 0.145, 0.150, 0.160, 0.165, 0.175, 0.185, 0.190, 0.200, 0.205, 0.215, 0.220, 0.230, 0.240, 0.245, 0.255, 0.262, 0.270, 0.275, 0.283, 0.290, 0.298, 0.305, 0.312, 0.320, 0.335, 0.345, 0.352, 0.360, 0.372, 0.380, 0.390]
mr_est_3 = [0.160, 0.175, 0.170, 0.190, 0.205, 0.215, 0.200, 0.240, 0.230, 0.260, 0.245, 0.275, 0.270, 0.300, 0.285, 0.310, 0.300, 0.315, 0.295, 0.325, 0.296, 0.330, 0.330, 0.340, 0.342, 0.355, 0.358, 0.362, 0.372, 0.378, 0.385, 0.392]
mr_mu_4 = [0.102, 0.106, 0.110, 0.115, 0.120, 0.125, 0.131, 0.137, 0.143, 0.149, 0.156, 0.163, 0.170, 0.177, 0.184, 0.192, 0.200, 0.208, 0.216, 0.224, 0.232, 0.240, 0.248, 0.256, 0.264, 0.272, 0.280, 0.288, 0.296, 0.304, 0.312, 0.320, 0.328, 0.336, 0.344, 0.352, 0.360, 0.368, 0.376, 0.384, 0.392]
mr_est_4 = [0.110, 0.115, 0.120, 0.126, 0.132, 0.138, 0.145, 0.152, 0.159, 0.166, 0.174, 0.182, 0.190, 0.198, 0.206, 0.215, 0.224, 0.233, 0.242, 0.251, 0.260, 0.268, 0.277, 0.285, 0.293, 0.300, 0.307, 0.314, 0.320, 0.326, 0.332, 0.338, 0.344, 0.350, 0.356, 0.362, 0.368, 0.375, 0.382, 0.389, 0.396]
mr_fit_mu = [0.10, 0.40]
mr_fit_est = [0.102, 0.40]

# %% style --------------------------------------------------------------------
W, H = 1256, 538
GRAY = "#909095"
RED = "#ff6464"
SPINE = "#4d4d4d"

available = {f.name for f in font_manager.fontManager.ttflist}
sans = [f for f in ["Roboto", "Liberation Sans", "DejaVu Sans"] if f in available]
serif = [f for f in ["Liberation Serif", "DejaVu Serif"] if f in available] or ["serif"]
plt.rcParams["font.family"] = sans
plt.rcParams["font.weight"] = "light"
plt.rcParams["mathtext.fontset"] = "cm"
plt.rcParams["axes.linewidth"] = 0.9


def px_axes(fig, left, right, top, bottom):
    return fig.add_axes([left / W, 1 - bottom / H, (right - left) / W, (bottom - top) / H])


def style(ax, xlim, xticks, xlabels, ylim, yticks, ylabels, offset, log=False):
    for s in ("top", "right"):
        ax.spines[s].set_visible(False)
    for s in ("left", "bottom"):
        ax.spines[s].set_color(SPINE)
    if log:
        ax.set_yscale("log")
    ax.set_xlim(xlim)
    ax.set_ylim(ylim)
    ax.spines["left"].set_position(("outward", offset))
    ax.spines["left"].set_bounds(yticks[0], yticks[-1])
    ax.spines["bottom"].set_bounds(xlim[0], xlim[1])
    ax.set_yticks(yticks)
    ax.set_yticklabels(ylabels)
    ax.set_xticks(xticks)
    ax.set_xticklabels(xlabels)
    if log:
        ax.set_yticks([0.2, 0.3, 0.4, 0.5, 0.6, 0.7, 0.8, 0.9], minor=True)
        ax.tick_params(axis="y", which="minor", length=3.5, width=0.9, color=SPINE, labelleft=False)
    else:
        ax.minorticks_off()
    ax.tick_params(axis="both", which="major", direction="out", length=5.5, width=0.9,
                   color=SPINE, labelsize=16, labelcolor="#222222")
    ax.tick_params(axis="y", pad=4)
    ax.tick_params(axis="x", pad=7)
    ax.patch.set_alpha(0)


def dots(ax, xs, ys, color=GRAY, s=20):
    ax.scatter(xs, ys, s=s, color=color, linewidths=0, clip_on=False, zorder=3)


fig = plt.figure(figsize=(W / 100, H / 100), dpi=100)

rows = [(17, 108), (146, 229), (258, 340), (370, 465)]
cols = [(148, 655), (727, 1230)]
ylims = [(-23.9, 20), (0.0704, 1), (-0.38, 10), (0.0566, 0.4)]
yticks = [([-20, 0, 20], ["-20", "0", "20"]),
          ([0.1, 1], ["0.1", "1"]),
          ([0, 5, 10], ["0", "", "10"]),
          ([0.1, 0.25, 0.4], ["0.1", "", "0.4"])]
xlims = [(0, 1.6), (0.1, 0.4)]
xticks = [[0, 0.8, 1.6], [0.1, 0.25, 0.4]]
xticklabels = [["0", "0.8", "1.6"], ["0.1", "0.3", "0.4"]]

axes = [[None, None] for _ in rows]
for i, (top, bottom) in enumerate(rows):
    for j, (left, right) in enumerate(cols):
        ax = px_axes(fig, left, right, top, bottom)
        labels = xticklabels[j] if i == 3 else ["", "", ""]
        style(ax, xlims[j], xticks[j], labels, ylims[i], yticks[i][0], yticks[i][1],
              offset=4.5, log=(i == 1))
        axes[i][j] = ax

# %% (a)
ax = axes[0][0]
ax.axhline(0, color="#cfcfcf", lw=1, ls=(0, (6, 4)), zorder=1)
for xs, ys in [(za_amp_1, za_re_1), (za_amp_2, za_re_2), (za_amp_3, za_re_3),
               (za_amp_4, za_re_4), (za_amp_5, za_re_5)]:
    dots(ax, xs, ys, GRAY, 26)
for xs, ys in [(zi_amp_1, zi_im_1), (zi_amp_2, zi_im_2), (zi_amp_3, zi_im_3),
               (zi_amp_4, zi_im_4), (zi_amp_5, zi_im_5), (zi_amp_6, zi_im_6)]:
    dots(ax, xs, ys, RED, 26)
ax.text(0.985, 1.0, r"$\mathrm{Re}(Zm)$", transform=ax.transAxes, ha="right", va="center", fontsize=15)
ax.text(0.945, 0.22, r"-$\mathrm{Im}(Zm)$", transform=ax.transAxes, ha="right", va="center", fontsize=15)

ax = axes[0][1]
ax.axhline(0, color="#cfcfcf", lw=1, ls=(0, (6, 4)), zorder=1)
for xs, ys in [(zr_mu_1, zr_re_1), (zr_mu_2, zr_re_2), (zr_mu_3, zr_re_3), (zr_mu_4, zr_re_4)]:
    dots(ax, xs, ys, GRAY, 19)
for xs, ys in [(ri_mu_1, ri_im_1), (ri_mu_2, ri_im_2), (ri_mu_3, ri_im_3), (ri_mu_4, ri_im_4),
               (ri_mu_5, ri_im_5), (ri_mu_6, ri_im_6), (ri_mu_7, ri_im_7), (ri_mu_8, ri_im_8),
               (ri_mu_9, ri_im_9), (ri_mu_10, ri_im_10), (ri_mu_11, ri_im_11)]:
    dots(ax, xs, ys, RED, 19)

# %% (b)
ax = axes[1][0]
for xs, ys in [(kl_amp_1, kl_kc_1), (kl_amp_2, kl_kc_2), (kl_amp_3, kl_kc_3), (kl_amp_4, kl_kc_4),
               (kl_amp_5, kl_kc_5), (kl_amp_6, kl_kc_6), (kl_amp_7, kl_kc_7)]:
    dots(ax, xs, ys, GRAY, 22)
ax.plot(kl_fit_amp, kl_fit_kc, color="black", lw=1.6, zorder=4, clip_on=False)

ax = axes[1][1]
for xs, ys in [(kr_mu_1, kr_kc_1), (kr_mu_2, kr_kc_2), (kr_mu_3, kr_kc_3), (kr_mu_4, kr_kc_4),
               (kr_mu_5, kr_kc_5)]:
    dots(ax, xs, ys, GRAY, 19)
ax.plot(kr_fit_mu, kr_fit_kc, color="black", lw=1.6, zorder=4, clip_on=False)

# %% (c)
ax = axes[2][0]
for xs, ys in [(xl_amp_1, xl_xt_1), (xl_amp_2, xl_xt_2), (xl_amp_3, xl_xt_3),
               (xl_amp_4, xl_xt_4), (xl_amp_5, xl_xt_5)]:
    dots(ax, xs, ys, GRAY, 22)
ax.plot(xl_fit_amp, xl_fit_xt, color="black", lw=1.6, zorder=4)

ax = axes[2][1]
for xs, ys in [(xr_mu_1, xr_xt_1), (xr_mu_2, xr_xt_2), (xr_mu_3, xr_xt_3), (xr_mu_4, xr_xt_4),
               (xr_mu_5, xr_xt_5), (xr_mu_6, xr_xt_6), (xr_mu_7, xr_xt_7), (xr_mu_8, xr_xt_8),
               (xr_mu_9, xr_xt_9), (xr_mu_10, xr_xt_10), (xr_mu_11, xr_xt_11)]:
    dots(ax, xs, ys, GRAY, 19)
ax.plot(xr_fit_mu, xr_fit_xt, color="black", lw=1.6, zorder=4)

# %% (d)
ax = axes[3][0]
for xs, ys in [(ml_amp_1, ml_mu_1), (ml_amp_2, ml_mu_2), (ml_amp_3, ml_mu_3),
               (ml_amp_4, ml_mu_4), (ml_amp_5, ml_mu_5)]:
    dots(ax, xs, ys, GRAY, 26)
for xs, ys in [(el_amp_1, el_mu_1), (el_amp_2, el_mu_2), (el_amp_3, el_mu_3), (el_amp_4, el_mu_4)]:
    ax.scatter(xs, ys, s=24, marker="+", color="black", linewidths=0.8, clip_on=False, zorder=4)
handles = [Line2D([], [], ls="none", marker="o", ms=6, mfc=GRAY, mec="none", label="measured"),
           Line2D([], [], ls="none", marker="+", ms=6.5, mec="black", mew=0.8, label="estimated")]
ax.legend(handles=handles, loc="upper right", bbox_to_anchor=(1.0, 1.32), frameon=False,
          fontsize=14, handletextpad=0.4, handlelength=1.0, labelspacing=0.1, borderaxespad=0)

ax = axes[3][1]
for xs, ys in [(mr_mu_1, mr_est_1), (mr_mu_2, mr_est_2), (mr_mu_3, mr_est_3), (mr_mu_4, mr_est_4)]:
    dots(ax, xs, ys, GRAY, 19)
ax.plot(mr_fit_mu, mr_fit_est, color="black", lw=1.6, zorder=4)

# %% labels
def ftext(x, y, s, **kw):
    fig.text(x / W, 1 - y / H, s, **kw)


for lab, y in [("(a)", 17), ("(b)", 130), ("(c)", 241), ("(d)", 357)]:
    ftext(10, y, lab, family=serif, fontweight="normal", fontsize=15, ha="left", va="center")

ftext(62, 47, r"$Z\ m$", fontsize=19, ha="center", va="center")
ftext(62, 75, "(N.s/m)", fontsize=13, ha="center", va="center")
ftext(62, 151, r"$k_c$", fontsize=17, ha="center", va="center")
ftext(62, 175, "(N/µm)", fontsize=13, ha="center", va="center")
ftext(62, 270, r"$\langle x_t\rangle$", fontsize=16, ha="center", va="center")
ftext(62, 294, "(µm)", fontsize=13, ha="center", va="center")
ftext(58, 406, r"$\mu$", fontsize=17, ha="center", va="center")

ftext(400, 523, r"amplitude $|\tilde{x}_p|$ (µm)", fontsize=15, ha="center", va="center")
ftext(972, 523, r"measured coefficient of friction  $\mu$", fontsize=15, ha="center", va="center")

fig.savefig("out.png", dpi=100)
